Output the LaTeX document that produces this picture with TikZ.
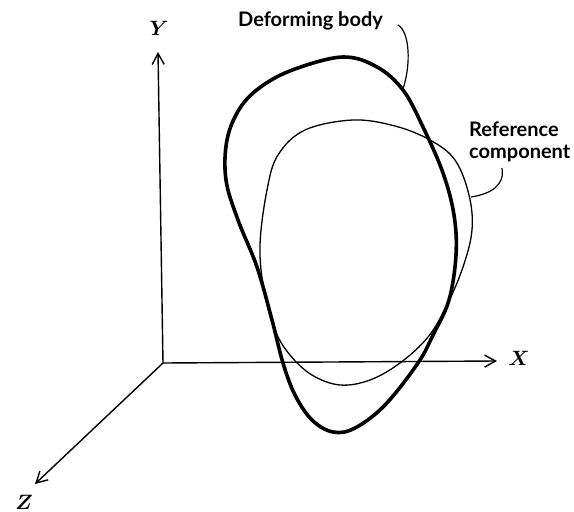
\documentclass[tikz,border=0pt]{standalone}
\usepackage{fontspec}
\newfontfamily\lblfont{Lato}
\usetikzlibrary{arrows.meta}
\begin{document}
\begin{tikzpicture}[x=1pt,y=-1pt,
  axis/.style={line width=1.4pt,-{Straight Barb[length=11pt,width=12pt,line width=1.4pt]}},
  body/.style={line width=3.6pt},
  refc/.style={line width=1.3pt},
  leader/.style={line width=1.2pt},
  lbl/.style={font=\fontsize{20}{22}\selectfont\lblfont\bfseries,inner sep=0pt},
  axlbl/.style={font=\fontsize{21}{24}\selectfont\boldmath,inner sep=0pt}]
\useasboundingbox (0,0) rectangle (574,512);
% axes
\coordinate (O) at (163,363);
\coordinate (Ytip) at (158,52);
\coordinate (Xtip) at (497,361);
\coordinate (Ztip) at (35,484);
\draw[axis] (O) -- (Ytip);
\draw[axis] (O) -- (Xtip);
\draw[axis] (O) -- (Ztip);
\node[axlbl] (ylab) at (159,28) {$Y$};
\node[axlbl] (xlab) at (519,358) {$X$};
\node[axlbl] (zlab) at (24,502) {$Z$};
% reference component (thin)
\draw[refc] plot[smooth cycle,tension=0.6] coordinates {
 (353,120) (395,126) (430,140) (455,160) (469,195) (472,230) (463,267)
 (447,305) (428,337) (400,363) (370,380) (340,385) (312,375) (290,355)
 (275,330) (264,290) (260,245) (267,190) (278,155) (305,130)};
% deforming body (thick)
\draw[body] plot[smooth cycle,tension=0.6] coordinates {
 (343,57) (377,67) (403,90) (423,127) (443,173) (454,215) (456,255)
 (449,300) (433,335) (418,363) (385,405) (355,428) (333,432) (312,420)
 (295,395) (283,363) (272,320) (257,267) (238,220) (226,180) (227,140)
 (240,108) (262,86) (295,69)};
% labels and leaders
\node[lbl,anchor=west] (dlab) at (238,21) {Deforming body};
\coordinate (dend) at (403,89);
\draw[leader] (398,25) .. controls (410,32) and (411,65) .. (dend);
\node[lbl,align=left,anchor=west] (rlab) at (469,142) {Reference\\component};
\coordinate (rend) at (471,197);
\draw[leader] (502,168) .. controls (505,186) and (490,194) .. (rend);
\end{tikzpicture}
\end{document}
